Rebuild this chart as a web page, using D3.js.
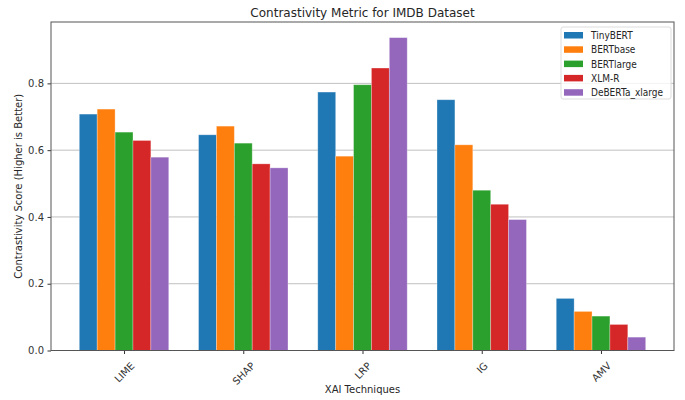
<!DOCTYPE html>
<html>
<head>
<meta charset="utf-8">
<script src="https://cdn.jsdelivr.net/npm/d3@7"></script>
<style>
  body { margin: 0; background: #fff; }
  text { font-family: "DejaVu Sans", sans-serif; fill: #262626; }
</style>
</head>
<body>
<svg id="chart" width="685" height="400"></svg>
<script>
var techniques = ["LIME", "SHAP", "LRP", "IG", "AMV"];
var models = ["TinyBERT", "BERTbase", "BERTlarge", "XLM-R", "DeBERTa_xlarge"];
var colors = ["#1f77b4", "#ff7f0e", "#2ca02c", "#d62728", "#9467bd"];

var tinyBERT = [0.708, 0.646, 0.774, 0.751, 0.156];
var bertBase = [0.723, 0.672, 0.582, 0.616, 0.117];
var bertLarge = [0.654, 0.621, 0.796, 0.480, 0.103];
var xlmR = [0.629, 0.559, 0.846, 0.438, 0.078];
var deberta = [0.579, 0.547, 0.937, 0.392, 0.040];
var yTicks = [0.0, 0.2, 0.4, 0.6, 0.8];

var series = [tinyBERT, bertBase, bertLarge, xlmR, deberta];
var barW = 0.15;

var svg = d3.select("#chart");

var x = d3.scaleLinear()
        .domain([-0.6125, 4.6125])
        .range([51, 674]);

var y = d3.scaleLinear()
        .domain([0, 0.937 * 1.05])
        .range([350.5, 22]);

// grid
svg.append("g")
        .selectAll("line")
        .data(yTicks.slice(1))
        .enter().append("line")
        .attr("x1", x.range()[0])
        .attr("x2", x.range()[1])
        .attr("y1", function(d){ return y(d); })
        .attr("y2", function(d){ return y(d); })
        .style("stroke", "#b0b0b0")
        .style("stroke-width", 0.8);

// bars
series.forEach(function(vals, k){
    svg.append("g")
            .selectAll("rect")
            .data(vals)
            .enter().append("rect")
            .attr("x", function(d, i){ return x(i + (k - 2) * barW - barW / 2); })
            .attr("width", x(barW) - x(0))
            .attr("y", function(d){ return y(d); })
            .attr("height", function(d){ return y(0) - y(d); })
            .style("fill", colors[k])
            .style("stroke", "#fff")
            .style("stroke-opacity", 0.35)
            .style("stroke-width", 0.8);
});

// axes
var yAxis = d3.axisLeft(y)
        .tickValues(yTicks)
        .tickFormat(d3.format(".1f"))
        .tickSize(3.5)
        .tickPadding(3.5);
var gy = svg.append("g")
        .attr("transform", "translate(" + x.range()[0] + ",0)")
        .call(yAxis);
gy.select(".domain").remove();
gy.selectAll("line").style("stroke", "#333");
gy.selectAll("text").style("font-size", "10px").style("fill", "#333");

var xAxis = d3.axisBottom(x)
        .tickValues(d3.range(techniques.length))
        .tickFormat(function(d){ return techniques[d]; })
        .tickSize(3.5);
var gx = svg.append("g")
        .attr("transform", "translate(0," + y(0) + ")")
        .call(xAxis);
gx.select(".domain").remove();
gx.selectAll("line").style("stroke", "#333");
gx.selectAll("text")
        .attr("y", 0)
        .attr("dy", 0)
        .style("font-size", "10px")
        .style("fill", "#333")
        .attr("text-anchor", "middle")
        .attr("transform", function(){
            var w = this.getComputedTextLength();
            var h = (w + 10) * Math.SQRT1_2;
            return "translate(0," + (10 + h / 2) + ") rotate(-45) translate(0,3.5)";
        });

// frame
svg.append("rect")
        .attr("x", x.range()[0])
        .attr("y", y.range()[1])
        .attr("width", x.range()[1] - x.range()[0])
        .attr("height", y.range()[0] - y.range()[1])
        .style("fill", "none")
        .style("stroke", "#555")
        .style("stroke-width", 1);

// labels
svg.append("text")
        .attr("x", (x.range()[0] + x.range()[1]) / 2)
        .attr("y", 17)
        .attr("text-anchor", "middle")
        .style("font-size", "12px")
        .text("Contrastivity Metric for IMDB Dataset");

svg.append("text")
        .attr("x", (x.range()[0] + x.range()[1]) / 2)
        .attr("y", 393)
        .attr("text-anchor", "middle")
        .style("font-size", "10px")
        .text("XAI Techniques");

svg.append("text")
        .attr("transform", "translate(22," + (y.range()[0] + y.range()[1]) / 2 + ") rotate(-90)")
        .attr("text-anchor", "middle")
        .style("font-size", "10px")
        .text("Contrastivity Score (Higher is Better)");

// legend
var legend = svg.append("g").attr("transform", "translate(561,27)");
legend.append("rect")
        .attr("width", 110)
        .attr("height", 72)
        .attr("rx", 2)
        .style("fill", "#fff")
        .style("fill-opacity", 0.8)
        .style("stroke", "#ddd");
var item = legend.selectAll(".item")
        .data(models)
        .enter().append("g")
        .attr("class", "item")
        .attr("transform", function(d, i){ return "translate(3," + (8.5 + i * 14.3) + ")"; });
item.append("rect")
        .attr("width", 19)
        .attr("height", 6.5)
        .attr("y", -3.5)
        .style("fill", function(d, i){ return colors[i]; });
item.append("text")
        .attr("transform", "translate(27,0) scale(0.9,1)")
        .attr("dy", "0.35em")
        .style("font-size", "10px")
        .text(function(d){ return d; });
</script>
</body>
</html>
